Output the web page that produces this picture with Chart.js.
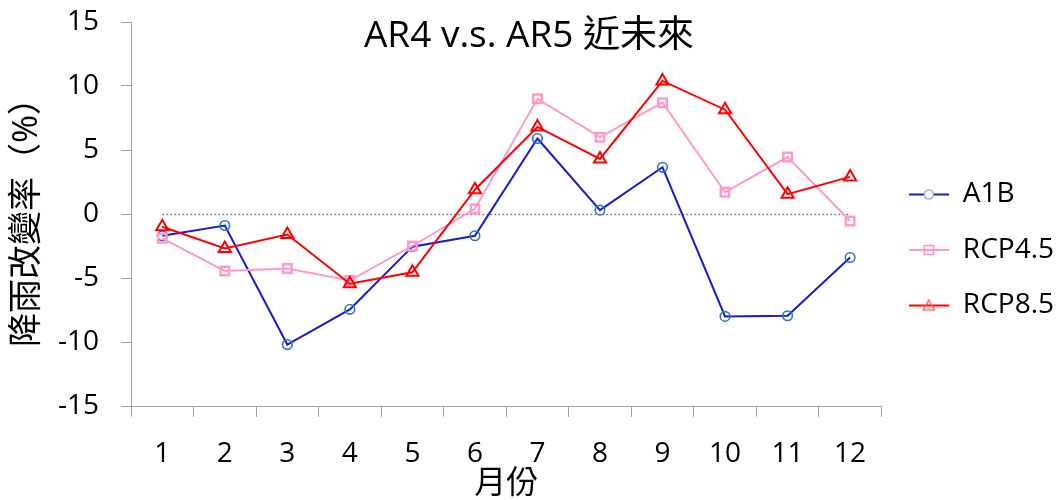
<!DOCTYPE html>
<html>
<head>
<meta charset="utf-8">
<script src="https://cdn.jsdelivr.net/npm/chart.js@4.4.1/dist/chart.umd.min.js"></script>
<style>
  html, body { margin: 0; padding: 0; background: #fff; }
  #wrap { width: 1064px; height: 500px; }
</style>
</head>
<body>
<div id="wrap"><canvas id="c"></canvas></div>
<script>
const months = ['1', '2', '3', '4', '5', '6', '7', '8', '9', '10', '11', '12'];
const a1b   = [-1.7, -0.9, -10.2, -7.45, -2.55, -1.7, 5.9, 0.3, 3.65, -8.0, -7.95, -3.4];
const rcp45 = [-1.9, -4.45, -4.25, -5.2, -2.5, 0.4, 9.0, 6.0, 8.7, 1.7, 4.45, -0.55];
const rcp85 = [-1.0, -2.7, -1.6, -5.45, -4.55, 1.9, 6.8, 4.3, 10.4, 8.15, 1.55, 2.9];
const yTicks = [-15, -10, -5, 0, 5, 10, 15];

const FONT = '"Open Sans", "Noto Sans CJK TC", sans-serif';

// little line+marker picture for each legend entry
function swatch(lineColor, markColor, shape) {
  const c = document.createElement('canvas');
  c.width = 40; c.height = 16;
  const g = c.getContext('2d');
  g.strokeStyle = lineColor; g.lineWidth = 2;
  g.beginPath(); g.moveTo(0, 8); g.lineTo(40, 8); g.stroke();
  g.strokeStyle = markColor; g.lineWidth = 1.5;
  g.beginPath();
  if (shape === 'circle') {
    g.fillStyle = '#fff';
    g.arc(20, 8, 4.5, 0, Math.PI * 2);
    g.fill();
  } else if (shape === 'rect') {
    g.rect(15.5, 3.5, 9, 9);
  } else {
    g.moveTo(20, 2.5); g.lineTo(25.5, 12.5); g.lineTo(14.5, 12.5); g.closePath();
  }
  g.stroke();
  return c;
}
const swatches = [
  swatch('#1a1ad0', '#7fb0dc', 'circle'),
  swatch('#ff99cc', '#ff88c4', 'rect'),
  swatch('#ff0000', '#ff6060', 'triangle')
];

// dotted zero line between first and last month
const zeroLine = {
  id: 'zeroLine',
  beforeDatasetsDraw(chart) {
    const { ctx, scales: { x, y } } = chart;
    const py = Math.round(y.getPixelForValue(0)) + 0.5;
    ctx.save();
    ctx.strokeStyle = '#777';
    ctx.lineWidth = 1.3;
    ctx.setLineDash([2, 2]);
    ctx.beginPath();
    ctx.moveTo(x.getPixelForValue(0), py);
    ctx.lineTo(x.getPixelForValue(months.length - 1), py);
    ctx.stroke();
    ctx.restore();
  }
};

// title sits inside the top of the plot
const topTitle = {
  id: 'topTitle',
  afterDraw(chart) {
    const ctx = chart.ctx;
    ctx.save();
    ctx.font = '37px ' + FONT;
    ctx.fillStyle = '#000';
    ctx.textAlign = 'center';
    ctx.textBaseline = 'alphabetic';
    ctx.fillText('AR4 v.s. AR5 近未來', 529, 47);
    ctx.restore();
  }
};

new Chart(document.getElementById('c'), {
  type: 'line',
  data: {
    labels: months,
    datasets: [
      {
        label: 'A1B', data: a1b, order: 3,
        borderColor: '#1a1ad0', borderWidth: 2,
        pointStyle: 'circle', pointRadius: 4.8, pointBorderWidth: 1.6,
        pointBorderColor: '#2e78b8', pointBackgroundColor: 'rgba(0,0,0,0)'
      },
      {
        label: 'RCP4.5', data: rcp45, order: 2,
        borderColor: '#ff99cc', borderWidth: 2,
        pointStyle: 'rect', pointRadius: 6, pointBorderWidth: 2.5,
        pointBorderColor: '#ff99cc', pointBackgroundColor: 'rgba(0,0,0,0)'
      },
      {
        label: 'RCP8.5', data: rcp85, order: 1,
        borderColor: '#ff0000', borderWidth: 2,
        pointStyle: 'triangle', pointRadius: 7, pointBorderWidth: 2,
        pointBorderColor: '#ff0000', pointBackgroundColor: 'rgba(0,0,0,0)'
      }
    ]
  },
  options: {
    responsive: true,
    maintainAspectRatio: false,
    animation: false,
    layout: { padding: 0 },
    plugins: {
      tooltip: { enabled: false },
      title: { display: false },
      legend: {
        position: 'right',
        labels: {
          color: '#000',
          font: { family: FONT, size: 28 },
          usePointStyle: true,
          pointStyleWidth: 40,
          padding: 27.5,
          sort: (a, b) => a.datasetIndex - b.datasetIndex,
          generateLabels: chart =>
            Chart.defaults.plugins.legend.labels.generateLabels(chart).map(l =>
              Object.assign(l, { pointStyle: swatches[l.datasetIndex] }))
        }
      }
    },
    scales: {
      x: {
        offset: true,
        grid: { offset: true, drawOnChartArea: false, drawTicks: true, tickLength: 11, color: '#a0a0a0' },
        border: { color: '#a0a0a0' },
        ticks: { color: '#000', font: { family: FONT, size: 28 }, padding: 20, maxRotation: 0 },
        title: { display: true, text: '月份', color: '#000', font: { family: FONT, size: 32, lineHeight: 1.0 }, padding: { top: 4, bottom: 0 } },
        afterFit: s => { s.height = 94; s.paddingLeft = 0; s.paddingRight = 0; }
      },
      y: {
        min: -15, max: 15,
        afterBuildTicks: s => { s.ticks = yTicks.map(v => ({ value: v })); },
        grid: { drawOnChartArea: false, drawTicks: true, tickLength: 10, color: '#a0a0a0' },
        border: { color: '#a0a0a0' },
        ticks: { color: '#000', font: { family: FONT, size: 28 }, padding: 22 },
        title: { display: true, text: '降雨改變率（%）', color: '#000', font: { family: FONT, size: 34 }, padding: { top: 7, bottom: 0 } },
        // plot top kept at 22px so the "15" label fits above it
        afterFit: s => { s.width = 131; s.paddingTop = 22; s.paddingBottom = 0; }
      }
    }
  },
  plugins: [zeroLine, topTitle]
});
</script>
</body>
</html>
